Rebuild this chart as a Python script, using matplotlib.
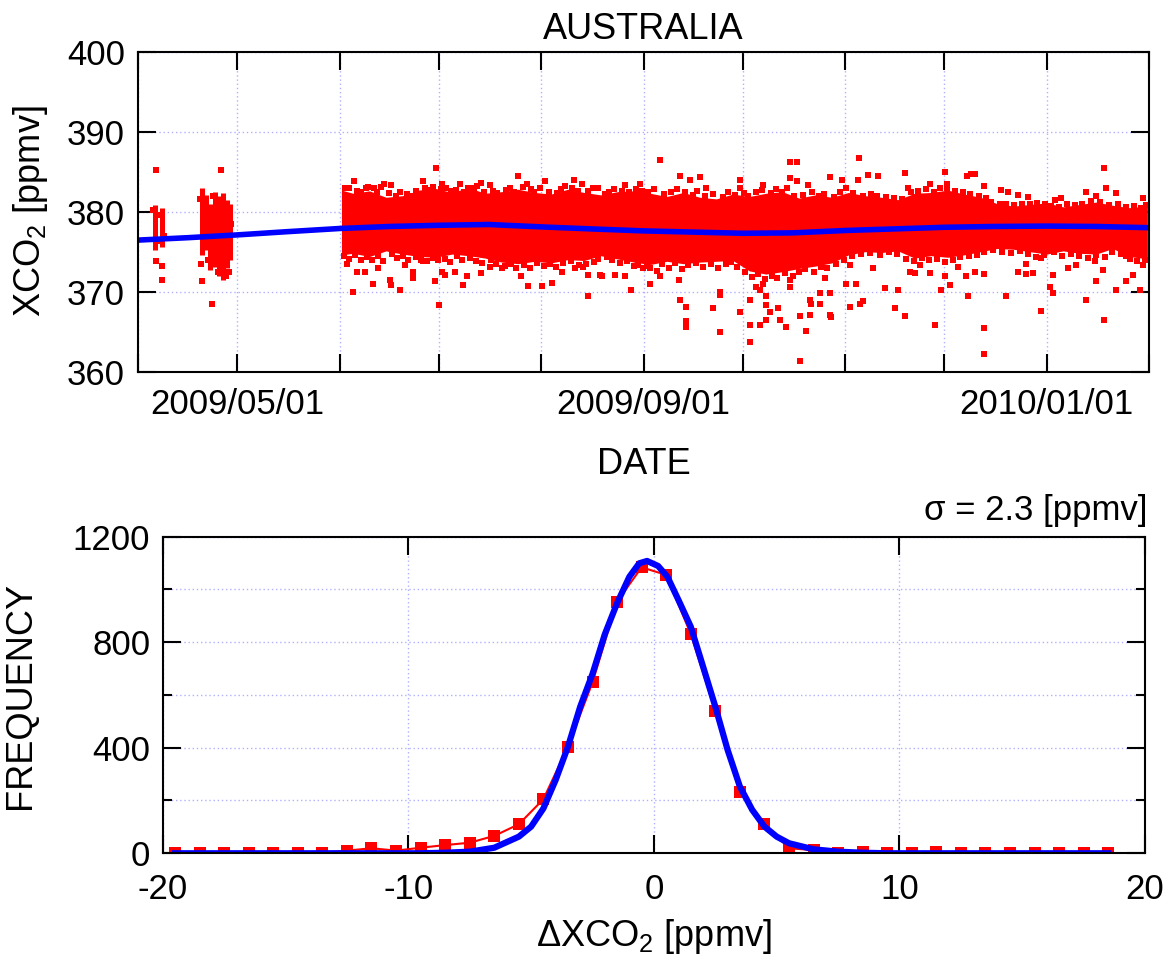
import datetime
import numpy as np
import matplotlib
matplotlib.use("Agg")
from matplotlib import pyplot as plt
import matplotlib.dates as mdates
from matplotlib.ticker import MultipleLocator, FixedLocator, FuncFormatter

plt.rcParams['font.family'] = ['Liberation Sans', 'DejaVu Sans']
plt.rcParams['mathtext.fontset'] = 'custom'
plt.rcParams['mathtext.rm'] = 'Liberation Sans'
plt.rcParams['mathtext.it'] = 'Liberation Sans:italic'
plt.rcParams['mathtext.bf'] = 'Liberation Sans:bold'
plt.rcParams['axes.unicode_minus'] = False

# ---- top panel data (days counted from 2009/04/01) ----
start_date = datetime.datetime(2009, 4, 1)

# solid core of the XCO2 cloud
core_day = [61.5, 65, 70, 75, 80, 85, 90, 95, 100, 105, 110, 115, 120, 125, 130, 135, 140, 145, 150,
            155, 160, 165, 170, 175, 180, 185, 190, 195, 200, 205, 210, 215, 220, 225, 230, 235, 240,
            245, 250, 255, 260, 265, 270, 275, 280, 285, 290, 295, 300, 305.5]
core_hi = [382.7, 382.3, 382.6, 381.8, 382.0, 382.7, 382.9, 382.4, 383.0, 382.3, 382.5, 382.8, 382.4,
           382.2, 382.8, 382.4, 382.1, 382.5, 382.6, 382.3, 381.9, 382.4, 381.8, 381.6, 382.2, 381.9,
           382.3, 382.5, 381.7, 382.1, 381.8, 382.4, 382.0, 381.8, 381.5, 382.3, 382.4, 382.7, 382.2,
           381.8, 381.0, 380.7, 380.9, 381.1, 380.6, 380.9, 381.2, 380.8, 380.5, 380.7]
core_lo = [374.6, 374.8, 374.4, 375.1, 374.7, 374.4, 374.3, 374.7, 374.5, 374.2, 373.7, 373.5, 373.8,
           373.6, 374.0, 373.9, 374.5, 374.1, 373.7, 373.4, 373.8, 373.5, 373.7, 373.8, 373.9, 372.6,
           372.2, 372.5, 372.9, 373.2, 373.6, 374.6, 375.0, 374.9, 375.1, 374.2, 374.5, 374.3, 374.6,
           375.0, 375.4, 375.3, 375.0, 374.7, 375.1, 374.8, 374.7, 375.4, 374.4, 374.1]

# April columns of soundings
col_day = [5.0, 7.3, 19.2, 20.5, 21.8, 23.1, 24.4, 25.7, 27.0, 27.7]
col_lo = [375.2, 375.6, 374.6, 375.2, 372.7, 373.1, 371.9, 371.5, 372.9, 374.0]
col_hi = [380.8, 380.4, 382.9, 382.1, 381.0, 382.5, 381.9, 382.3, 381.5, 381.0]

# soundings on the ragged edges of the core
fringe_day = [62.5, 63.8, 66.2, 67.5, 68.9, 71.3, 72.4, 73.6, 75.8, 77.9, 79.1, 81.4, 82.7, 84.2, 86.8,
              87.9, 89.2, 91.5, 93.3, 94.6, 96.2, 98.7, 99.8, 101.5, 102.6, 104.8, 107.3, 108.6, 111.2,
              112.5, 113.8, 116.4, 118.9, 119.7, 121.6, 124.3, 126.8, 127.9, 129.1, 131.4, 133.0, 136.1,
              137.8, 141.2, 142.6, 144.1, 146.4, 148.5, 150.7, 152.4,
              154.3, 156.2, 159.1, 161.3, 163.0, 165.4, 167.8, 169.2, 171.5, 174.1, 176.9, 178.4, 180.6,
              183.4, 184.7, 186.9, 188.8, 191.5, 193.2, 194.9, 196.4, 198.5, 201.2, 203.9, 206.1, 207.7,
              210.6, 212.4, 214.2, 216.5, 219.3, 221.8, 223.5, 226.3, 228.7, 231.2, 233.9, 236.2, 238.4,
              240.8, 242.6, 244.9, 247.3, 249.6, 251.8, 254.4, 256.6, 258.3, 260.9, 262.7, 265.1, 267.4,
              269.9, 272.1, 274.6, 276.2, 278.8, 281.3, 283.5, 285.7, 288.4, 291.2, 293.8, 296.7, 298.9,
              301.4, 303.6, 305.2,
              62.4, 63.9, 65.7, 67.3, 69.2, 70.8, 72.5, 74.1, 76.9, 78.3, 80.1, 81.8, 84.0, 85.6, 87.4,
              89.1, 90.8, 93.0, 94.4, 96.6, 98.0, 100.3, 102.1, 104.2, 106.8, 108.3, 110.9, 112.7, 114.4,
              116.9, 118.5, 120.8, 122.9, 124.5, 126.6, 128.7, 130.9, 133.4, 135.5, 137.9, 139.1, 141.9,
              143.4, 145.8, 147.9, 150.2, 152.9,
              154.1, 156.9, 158.7, 160.8, 162.5, 164.6, 166.4, 168.9, 171.1, 173.4, 175.6, 177.8, 179.5,
              181.3, 183.8, 185.9, 187.6, 189.8, 191.9, 193.5, 195.7, 198.1, 199.9, 201.8, 204.5, 206.8,
              208.5, 211.3, 213.5, 216.2, 218.8, 221.4, 224.6, 227.2, 229.6, 232.5, 234.7, 237.3, 239.3,
              241.7, 244.3, 246.5, 248.9, 251.4, 253.9, 256.1, 258.8, 261.4, 264.2, 266.9, 269.3, 271.7,
              274.2, 277.1, 279.6, 282.4, 284.8, 287.5, 289.9, 292.6, 294.8, 297.6, 300.3, 302.4, 304.7,
              4.6, 5.6, 6.6, 7.8, 18.6, 19.8, 22.5, 23.8, 25.1, 26.5, 28.1, 18.9, 21.2, 24.9, 26.1, 27.4]
fringe_val = [382.9, 383.0, 382.6, 382.4, 383.0, 382.9, 382.5, 383.1, 382.3, 382.0, 382.4, 382.2, 381.9,
              382.6, 382.9, 382.7, 383.1, 382.8, 383.0, 382.6, 382.7, 382.4, 383.0, 382.9, 383.2, 382.5,
              382.6, 382.3, 382.7, 382.9, 382.4, 383.1, 382.8, 382.5, 382.9, 382.5, 382.3, 382.8, 383.2,
              382.9, 382.6, 382.6, 382.9, 382.2, 382.5, 382.8, 382.6, 382.4, 382.8, 382.6,
              382.4, 382.8, 382.2, 382.5, 382.8, 382.4, 382.1, 382.6, 381.9, 382.2, 381.8, 382.4, 382.1,
              382.3, 381.9, 382.4, 382.7, 382.3, 382.8, 382.5, 382.9, 382.0, 382.1, 382.4, 381.9, 382.2,
              381.8, 382.5, 382.9, 382.3, 382.0, 382.2, 381.9, 381.8, 381.7, 381.6, 382.4, 382.6, 382.8,
              382.5, 382.9, 383.0, 382.6, 382.4, 382.2, 381.9, 381.7, 381.2, 381.0, 380.9, 380.8, 381.0,
              380.9, 381.1, 380.9, 380.7, 380.6, 380.9, 380.8, 381.0, 381.3, 381.2, 380.8, 380.9, 380.6,
              380.7, 380.5, 380.8,
              374.4, 374.1, 374.6, 374.0, 374.3, 373.9, 374.4, 373.8, 374.7, 374.2, 374.5, 373.9, 374.3,
              374.0, 373.8, 374.2, 373.9, 374.1, 373.7, 374.4, 373.9, 374.2, 373.8, 373.6, 373.9, 373.4,
              373.2, 373.5, 372.9, 373.3, 373.0, 373.6, 373.2, 373.4, 373.1, 373.6, 373.8, 373.3, 373.5,
              373.7, 374.1, 374.3, 373.9, 373.6, 373.8, 373.2, 373.0,
              373.2, 372.6, 373.4, 373.0, 373.6, 372.8, 373.3, 373.6, 373.1, 373.5, 373.0, 373.4, 373.7,
              373.1, 372.4, 371.8, 372.2, 371.6, 372.0, 371.7, 372.3, 371.9, 372.5, 372.8, 372.4, 373.1,
              372.9, 373.5, 373.9, 374.4, 374.7, 374.8, 374.6, 374.9, 374.7, 374.1, 373.8, 374.2, 373.9,
              374.1, 373.7, 374.0, 374.3, 374.5, 374.6, 374.9, 375.2, 375.0, 374.8, 375.1, 374.7, 374.3,
              374.6, 374.9, 374.4, 374.7, 374.5, 374.2, 374.6, 374.3, 375.0, 374.7, 374.1, 373.8, 374.0,
              380.2, 376.3, 379.6, 376.9, 381.6, 380.6, 382.0, 376.2, 381.2, 380.4, 378.4, 373.4, 373.9,
              372.9, 373.4, 372.4]

# scattered soundings outside the core
pt_day = [5.25, 5.25, 7.06, 7.06, 19.17, 25.03, 22.2, 26.44, 24.2,
          63.3, 65.4, 69.6, 74.4, 76.4, 86.3, 90.1, 92.0, 97.4, 103.9, 106.5, 115.0, 117.6, 123.1,
          132.0, 134.2, 139.3, 147.3, 151.9,
          63.1, 65.1, 66.1, 68.6, 71.1, 72.7, 76.2, 76.4, 79.2, 80.7, 83.2, 83.2, 86.3, 89.8, 91.1,
          92.0, 92.8, 95.9, 98.2, 99.4, 103.9, 106.5, 110.0, 116.0, 118.1, 122.1, 125.1, 128.2, 132.2,
          134.7, 136.2, 136.2, 139.8, 140.3, 144.3, 147.3, 149.3, 151.4,
          158.0, 163.9, 166.9, 170.0, 172.0, 182.1, 182.1, 189.1, 197.2, 199.4, 197.2, 199.4, 202.8,
          209.3, 213.1, 217.9, 218.2, 221.0, 224.0, 232.1, 233.0, 239.6, 244.1, 244.8, 250.9, 252.2,
          253.2, 255.9, 261.3, 263.3, 266.3, 269.4, 277.4, 279.4, 287.0, 290.0, 292.3, 293.1, 296.1,
          304.2,
          155.0, 158.0, 155.0, 163.7, 164.1, 165.9, 165.9, 165.9, 174.0, 176.0, 176.0, 176.2, 182.1,
          185.1, 185.1, 185.1, 188.1, 187.1, 188.1, 189.1, 190.1, 190.1, 191.1, 190.1, 193.7, 194.2,
          196.2, 197.2, 197.2, 200.2, 202.2, 203.3, 203.8, 203.3, 200.2, 206.3, 206.3, 207.8, 209.3,
          209.3, 209.8, 214.4, 215.4, 215.4, 217.4, 218.4, 219.4, 222.4, 226.0, 229.0, 230.0, 232.0,
          233.5, 235.0, 236.6, 239.6, 241.1, 243.1, 244.1, 245.6, 248.2, 250.7, 251.2, 253.2, 255.9,
          255.9, 255.9, 262.8, 266.3, 268.8, 268.8, 270.9, 273.2, 273.2, 275.9, 276.9, 276.9, 281.5,
          284.0, 287.0, 289.5, 290.0, 292.1, 292.3, 296.1, 299.1, 299.1, 301.1, 303.2, 304.2]
pt_val = [385.2, 373.8, 373.2, 371.5, 371.3, 385.2, 368.5, 371.9, 372.5,
          382.9, 383.8, 383.1, 383.4, 383.3, 383.8, 385.5, 383.5, 383.5, 383.6, 383.3, 384.4, 383.5, 383.8,
          383.9, 383.4, 382.9, 383.3, 383.5,
          373.5, 369.9, 372.5, 372.5, 371.0, 372.9, 371.5, 370.8, 370.2, 373.3, 371.7, 372.5, 373.8, 371.3,
          368.3, 372.5, 372.1, 372.5, 370.8, 371.9, 372.3, 373.1, 372.9, 371.9, 370.7, 370.7, 371.1, 372.5,
          372.9, 373.1, 372.1, 369.5, 372.1, 371.9, 372.1, 371.9, 370.2, 373.3,
          386.4, 384.4, 384.0, 384.3, 382.9, 384.0, 382.9, 383.3, 386.2, 386.2, 384.2, 383.8, 383.3,
          384.3, 384.0, 383.9, 386.7, 384.6, 384.5, 384.8, 382.9, 383.5, 384.9, 383.5, 384.5, 384.7,
          384.7, 383.2, 382.7, 382.4, 382.1, 381.8, 381.5, 381.7, 382.5, 381.9, 385.5, 382.9, 382.3,
          381.7,
          372.9, 372.0, 371.0, 371.5, 368.9, 368.1, 366.3, 365.6, 367.9, 370.0, 369.6, 364.9, 367.5,
          369.0, 365.8, 363.7, 365.8, 370.6, 370.2, 371.0, 369.4, 368.3, 367.5, 366.5, 367.9, 366.5,
          365.6, 371.5, 370.6, 367.0, 365.1, 369.0, 368.5, 367.1, 361.3, 369.8, 368.5, 371.7, 369.8,
          367.1, 366.8, 371.0, 368.1, 373.3, 371.0, 368.5, 368.8, 372.9, 370.4, 367.9, 370.2, 366.9,
          372.5, 372.3, 373.3, 372.3, 365.8, 370.2, 371.9, 370.8, 373.1, 372.0, 369.4, 372.5, 372.2,
          365.5, 362.2, 369.5, 372.4, 373.5, 372.2, 372.3, 374.2, 367.6, 370.6, 369.8, 372.1, 372.9,
          373.3, 369.0, 373.8, 371.3, 372.7, 366.5, 370.2, 374.4, 371.3, 372.1, 370.2, 373.3]

# smooth trend (blue)
trend_day = [0, 15, 30, 45, 61, 76, 91, 106, 122, 137, 153, 168, 183, 198, 214, 229, 244, 259, 275, 290, 306]
trend_val = [376.45, 376.75, 377.1, 377.5, 377.9, 378.15, 378.3, 378.4, 378.1, 377.85, 377.6, 377.45,
             377.3, 377.35, 377.65, 377.85, 378.05, 378.15, 378.2, 378.15, 378.0]

# ---- bottom panel data ----
hist_x = [-19.5, -18.5, -17.5, -16.5, -15.5, -14.5, -13.5, -12.5, -11.5, -10.5, -9.5, -8.5, -7.5,
          -6.5, -5.5, -4.5, -3.5, -2.5, -1.5, -0.5, 0.5, 1.5, 2.5, 3.5, 4.5, 5.5, 6.5, 7.5, 8.5,
          9.5, 10.5, 11.5, 12.5, 13.5, 14.5, 15.5, 16.5, 17.5, 18.5]
hist_y = [0, 0, 0, 0, 0, 0, 2, 10, 19, 10, 21, 31, 40, 66, 110, 205, 404, 648, 954, 1084, 1055, 831,
          539, 231, 111, 19, 12, 0, 6, 0, 0, 4, 0, 0, 0, 0, 0, 0, 0]

fit_x = [-19.5, -10, -9.5, -8.5, -7.5, -6.5, -5.5, -5.0, -4.5, -4.0, -3.5, -3.0, -2.5, -2.0, -1.5,
         -1.0, -0.6, -0.28, 0.17, 0.55, 1.0, 1.5, 2.0, 2.5, 3.0, 3.5, 4.0, 4.5, 5.0, 5.5, 6.5, 7.5,
         8.5, 9.5, 18.5]
fit_y = [0, 0, 0, 2, 6, 21, 63, 101, 170, 278, 404, 556, 680, 830, 948, 1048, 1099, 1108, 1089,
         1048, 960, 859, 708, 556, 392, 253, 165, 101, 63, 38, 15, 6, 2, 0, 0]

sigma_text = 'σ = 2.3 [ppmv]'

grid_kw = dict(color='#b0b0ff', linestyle=(0, (1, 2)), linewidth=1.0)

fig = plt.figure(figsize=(11.65, 9.57), dpi=100)

# ================= top panel =================
ax1 = fig.add_axes([0.1187, 0.6116, 0.8676, 0.3344])
base = mdates.date2num(start_date)
ax1.set_axisbelow(True)
ax1.fill_between(base + np.array(core_day), core_lo, core_hi, color='red', lw=0)
ax1.vlines(base + np.array(col_day), col_lo, col_hi, color='red', lw=3.6)
ax1.plot(base + np.array(fringe_day), fringe_val, 's', color='red', ms=4, mew=0)
ax1.plot(base + np.array(pt_day), pt_val, 's', color='red', ms=4, mew=0)
ax1.plot(base + np.array(trend_day), trend_val, color='blue', lw=4)

ax1.set_xlim(base, base + 306)
ax1.set_ylim(360, 400)
ax1.xaxis.set_major_locator(mdates.MonthLocator())


def date_label(v, p):
    d = mdates.num2date(v)
    if d.month in (1, 5, 9):
        return d.strftime('%Y/%m/%d')
    return ''


ax1.xaxis.set_major_formatter(FuncFormatter(date_label))
ax1.yaxis.set_major_locator(MultipleLocator(10))
ax1.grid(True, **grid_kw)
ax1.tick_params(axis='both', which='major', direction='in', length=13, width=1.5,
                top=True, right=True, labelsize=25)
ax1.tick_params(axis='x', pad=12)
ax1.tick_params(axis='y', pad=9.5)
for s in ax1.spines.values():
    s.set_linewidth(1.5)

ax1.text(0.5, 1.039, 'AUSTRALIA', ha='center', va='baseline', transform=ax1.transAxes, fontsize=26)
ax1.set_ylabel('XCO$_\\mathregular{2}$ [ppmv]', fontsize=26)
ax1.yaxis.set_label_coords(-0.087, 0.5)
ax1.set_xlabel('DATE', fontsize=26)
ax1.xaxis.set_label_coords(0.5, -0.235)

# ================= bottom panel =================
ax2 = fig.add_axes([0.1397, 0.1084, 0.8432, 0.3308])
ax2.set_axisbelow(True)
ax2.plot(hist_x, hist_y, '-', color='red', lw=1.5, marker='s', ms=8.5, mew=0)
ax2.plot(fit_x, fit_y, color='blue', lw=4.5)

ax2.set_xlim(-20, 20)
ax2.set_ylim(0, 1200)
ax2.xaxis.set_major_locator(MultipleLocator(10))
ax2.yaxis.set_major_locator(FixedLocator([0, 400, 800, 1200]))
ax2.yaxis.set_minor_locator(MultipleLocator(200))
ax2.xaxis.grid(True, which='major', **grid_kw)
ax2.yaxis.grid(True, which='both', **grid_kw)
ax2.tick_params(axis='both', which='major', direction='in', length=13, width=1.5,
                top=True, right=True, labelsize=25)
ax2.tick_params(axis='y', which='minor', direction='in', length=6.5, width=1.5, right=True)
ax2.tick_params(axis='x', pad=14)
ax2.tick_params(axis='y', pad=9)
for s in ax2.spines.values():
    s.set_linewidth(1.5)

ax2.text(1.002, 1.053, sigma_text, ha='right', va='baseline', transform=ax2.transAxes, fontsize=25)
ax2.set_ylabel('FREQUENCY', fontsize=26)
ax2.yaxis.set_label_coords(-0.127, 0.5)
ax2.set_xlabel('ΔXCO$_\\mathregular{2}$ [ppmv]', fontsize=26)
ax2.xaxis.set_label_coords(0.5, -0.2)

fig.savefig('out.png', dpi=100)
